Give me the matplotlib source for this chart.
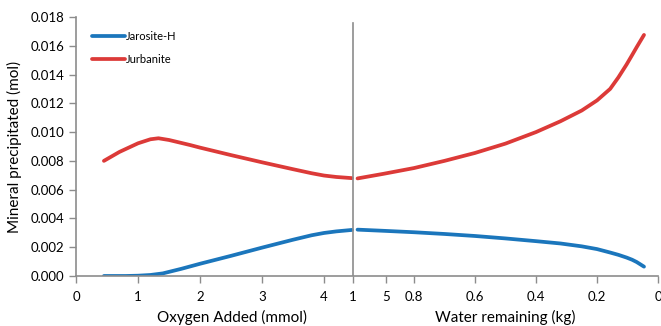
import matplotlib
matplotlib.use("Agg")
import matplotlib.pyplot as plt

plt.rcParams['font.family'] = ['Lato', 'DejaVu Sans']

# oxygen-addition part (x in mmol O2)
oxy_jar_x = [0.45, 0.8, 1.0, 1.2, 1.4, 1.7, 2.0, 2.5, 3.0, 3.5, 3.8, 4.0, 4.2, 4.45]
oxy_jar_y = [0.0, 0.0, 0.00002, 0.00007, 0.00018, 0.00050, 0.00085, 0.00140,
             0.00197, 0.00252, 0.00283, 0.00299, 0.00310, 0.00320]
oxy_jur_x = [0.45, 0.7, 1.0, 1.2, 1.33, 1.5, 1.84, 2.0, 2.5, 3.0, 3.5, 3.8, 4.0, 4.2, 4.45]
oxy_jur_y = [0.00800, 0.00862, 0.00922, 0.00950, 0.00957, 0.00945, 0.00910, 0.00892,
             0.00840, 0.00790, 0.00742, 0.00714, 0.00698, 0.00688, 0.00680]

# evaporation part (x in kg water remaining)
wat_x = [0.985, 0.9, 0.8, 0.7, 0.6, 0.5, 0.4, 0.32, 0.25, 0.2, 0.157, 0.13, 0.103,
         0.085, 0.07, 0.046]
wat_jar_y = [0.00322, 0.00314, 0.00304, 0.00292, 0.00278, 0.00261, 0.00242, 0.00226,
             0.00206, 0.00187, 0.00163, 0.00147, 0.00128, 0.00113, 0.00097, 0.00065]
wat_jur_y = [0.00678, 0.00710, 0.00750, 0.00800, 0.00855, 0.00920, 0.01000, 0.01075,
             0.01150, 0.01220, 0.01300, 0.01380, 0.01470, 0.01535, 0.01590, 0.01675]

oxy_ticks = [0, 1, 2, 3, 4, 5]
wat_ticks = [1, 0.8, 0.6, 0.4, 0.2, 0]
wat_labels = ['1', '0.8', '0.6', '0.4', '0.2', '0']

blue = '#1b76bc'
red = '#dc3a38'
gray = '#8c8c8c'

fig = plt.figure(figsize=(6.61, 3.26), dpi=100)
ax = fig.add_axes([0.115, 0.1534, 0.8805, 0.7946])

ax.plot(oxy_jar_x, oxy_jar_y, color=blue, lw=2.7, label='Jarosite-H', solid_capstyle='round')
ax.plot(oxy_jur_x, oxy_jur_y, color=red, lw=2.7, label='Jurbanite', solid_capstyle='round')
ax.set_xlim(0, 9.387)
ax.set_ylim(0, 0.018)
ax.set_xticks(oxy_ticks)
ax.set_yticks([i * 0.002 for i in range(10)])
ax.yaxis.set_major_formatter(matplotlib.ticker.FormatStrFormatter('%.3f'))
ax.tick_params(axis='both', colors=gray, labelcolor='black', labelsize=9.5,
               direction='out', length=5, width=1)
ax.tick_params(axis='x', pad=6)
for s in ['top', 'right']:
    ax.spines[s].set_visible(False)
for s in ['left', 'bottom']:
    ax.spines[s].set_color(gray)
    ax.spines[s].set_linewidth(1.2)
ax.set_ylabel('Mineral precipitated (mol)', fontsize=11, labelpad=6)

ax2 = ax.twiny()
ax2.xaxis.set_ticks_position('bottom')
for s in ['top', 'right', 'left', 'bottom']:
    ax2.spines[s].set_visible(False)
ax2.plot(wat_x, wat_jar_y, color=blue, lw=2.7, solid_capstyle='round')
ax2.plot(wat_x, wat_jur_y, color=red, lw=2.7, solid_capstyle='round')
ax2.set_xlim(1.908, 0)
ax2.set_xticks(wat_ticks)
ax2.set_xticklabels(wat_labels)
ax2.tick_params(axis='x', colors=gray, labelcolor='black', labelsize=9.5,
                direction='out', length=5, width=1, pad=6)
ax2.axvline(1.0, ymin=0, ymax=0.977, color=gray, lw=1.2)

fig.text(0.351, 0.003, 'Oxygen Added (mmol)', fontsize=11, ha='center', va='bottom')
fig.text(0.765, 0.003, 'Water remaining (kg)', fontsize=11, ha='center', va='bottom')

leg = ax.legend(loc='upper left', bbox_to_anchor=(0.01, 0.985), frameon=False,
                fontsize=8, handlelength=3.0, handletextpad=0.1, labelspacing=1.1)

fig.savefig('out.png', dpi=100)
